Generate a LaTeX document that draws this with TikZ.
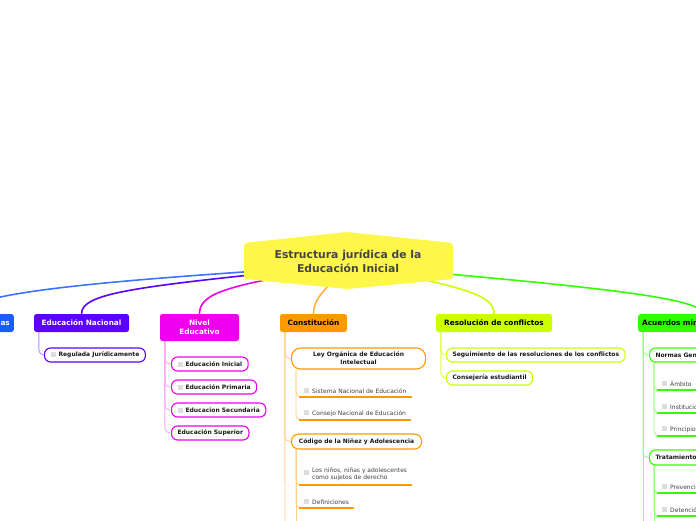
\documentclass[tikz,border=0pt]{standalone}
\usepackage{fontspec}
\setmainfont{DejaVu Sans}
\usetikzlibrary{backgrounds}
\definecolor{cBlue}{HTML}{1A5CFF}
\definecolor{cPurple}{HTML}{5C00FF}
\definecolor{cMagenta}{HTML}{EE00EE}
\definecolor{cOrange}{HTML}{FF9900}
\definecolor{cYG}{HTML}{CCFF00}
\definecolor{cGreen}{HTML}{33FF00}
\definecolor{cYellow}{HTML}{FFF64A}
\definecolor{cText}{HTML}{444444}
\definecolor{cbgray}{HTML}{DDDDDD}
\newcommand\cbx{\raisebox{-0.3pt}{\textcolor{cbgray}{\rule{5pt}{5pt}}}\hspace{3pt}}
\tikzset{
  mainbox/.style={rounded corners=2.5pt, minimum height=18pt, inner xsep=4pt, inner ysep=0pt,
    font=\bfseries\fontsize{7.3}{9}\selectfont, align=center},
  subbox/.style={draw=#1, line width=1.1pt, fill=white, rounded corners=6pt, minimum height=14pt,
    inner xsep=6pt, inner ysep=0pt, font=\bfseries\fontsize{6}{8}\selectfont, text=black!90, align=center},
  leaf/.style={inner xsep=5pt, inner ysep=3.5pt, font=\fontsize{6}{8.5}\selectfont, text=black!75, align=left},
  uline/.style={draw=#1, line width=2.6pt},
  topline/.style={draw=#1, line width=1.6pt},
  subline/.style={draw=#1, line width=0.9pt, rounded corners=5pt},
}
\begin{document}
\begin{tikzpicture}[x=1pt,y=-1pt]
\useasboundingbox (0,0) rectangle (696,520);
\clip (0,0) rectangle (696,520);
% central
\fill[cYellow, rounded corners=3pt] (244,243) -- (347,232) -- (453,243) -- (453,279) -- (347,289) -- (244,279) -- cycle;
\node[font=\bfseries\fontsize{10.8}{14}\selectfont, text=cText, align=center] (root) at (348,261) {Estructura jurídica de la\\Educación Inicial};
\coordinate (hub) at (348,265);
% main boxes
\node[mainbox, fill=cBlue, text=white, anchor=east, minimum width=100pt, text width=92pt, align=right] (asb) at (14,323) {as};
\node[mainbox, fill=cPurple, text=white, minimum width=95pt] (nacional) at (81.5,323) {Educación Nacional};
\node[mainbox, fill=cMagenta, text=white, minimum width=79pt, minimum height=27pt] (nivel) at (199.5,327.5) {Nivel\\Educativo};
\node[mainbox, fill=cOrange, text=black, minimum width=67pt] (const) at (313.5,323) {Constitución};
\node[mainbox, fill=cYG, text=black, minimum width=116pt] (resol) at (494,323) {Resolución de conflictos};
\node[mainbox, fill=cGreen, text=black, anchor=west, minimum width=130pt, text width=122pt, align=left] (acuerdos) at (638,323) {Acuerdos ministeriales};
% Educación Nacional
\node[subbox=cPurple, anchor=west] (reg) at (44,355) {\cbx Regulada Jurídicamente};
% Nivel Educativo
\node[subbox=cMagenta, anchor=west] (ni1) at (171,364) {\cbx Educación Inicial};
\node[subbox=cMagenta, anchor=west] (ni2) at (171,387) {\cbx Educación Primaria};
\node[subbox=cMagenta, anchor=west] (ni3) at (171,410) {\cbx Educacion Secundaria};
\node[subbox=cMagenta, anchor=west] (ni4) at (171,433) {Educación Superior};
% Constitución
\node[subbox=cOrange, rounded corners=9pt, minimum width=134pt, minimum height=21pt, anchor=west] (ley) at (291,358.5) {Ley Orgánica de Educación\\Intelectual};
\node[leaf, anchor=south west] (l1) at (299,397) {\cbx Sistema Nacional de Educación};
\node[leaf, anchor=south west] (l2) at (299,420) {\cbx Consejo Nacional de Educación};
\node[subbox=cOrange, rounded corners=7pt, minimum width=130pt, minimum height=15pt, anchor=west] (codigo) at (291,441.5) {Código de la Niñez y Adolescencia};
\node[leaf, anchor=south west, inner ysep=2.5pt] (l3) at (299,485) {\raisebox{1pt}{\cbx}\begin{tabular}{@{}l@{}}Los niños, niñas y adolescentes\\[-1.5pt]como sujetos de derecho\end{tabular}};
\node[leaf, anchor=south west] (l4) at (299,508) {\cbx Definiciones};
% Resolución
\node[subbox=cYG, anchor=west] (seg) at (446,355) {Seguimiento de las resoluciones de los conflictos};
\node[subbox=cYG, anchor=west] (cons) at (446,378) {Consejería estudiantil};
% Acuerdos
\node[subbox=cGreen, anchor=west, text width=80pt, align=left] (normas) at (649,355) {Normas Generales};
\node[leaf, anchor=south west, text width=55pt] (a1) at (657,390) {\cbx Ámbito};
\node[leaf, anchor=south west, text width=55pt] (a2) at (657,413) {\cbx Instituciones};
\node[leaf, anchor=south west, text width=55pt] (a3) at (657,436) {\cbx Principios};
\node[subbox=cGreen, anchor=west, text width=80pt, align=left, minimum height=15pt] (trat) at (649,457.5) {Tratamiento};
\node[leaf, anchor=south west, text width=55pt] (a4) at (657,493) {\cbx Prevención};
\node[leaf, anchor=south west, text width=55pt] (a5) at (657,516) {\cbx Detención};
% underlines
\foreach \n in {l1,l2,l3,l4} \draw[uline=cOrange] (\n.south west) -- (\n.south east);
\foreach \n in {a1,a2,a3,a4,a5} \draw[uline=cGreen] (\n.south west) -- (\n.south east);
\coordinate (offb1) at (285,540);
\coordinate (offb2) at (296,540);
\coordinate (offb3) at (643,540);
\coordinate (offb4) at (654,540);
\begin{scope}[on background layer]
  \draw[topline=cBlue!85] (hub) .. controls (150,278) and (-36,290) .. (asb.north);
  \draw[topline=cPurple] (hub) .. controls (140,286) and (81.5,292) .. (nacional.north);
  \draw[topline=cMagenta] (hub) .. controls (230,285) and (199.5,292) .. (nivel.north);
  \draw[topline=cOrange!75] (hub) .. controls (325,290) and (313.5,298) .. (const.north);
  \draw[topline=cYG] (hub) .. controls (470,287) and (494,296) .. (resol.north);
  \draw[topline=cGreen] (hub) .. controls (560,284) and (703,296) .. (acuerdos.north);
  % children connectors
  \draw[subline=cPurple!45] ([xshift=5pt]nacional.south west) |- (reg.west);
  \foreach \n in {ni1,ni2,ni3,ni4} \draw[subline=cMagenta!35] ([xshift=5pt]nivel.south west) |- (\n.west);
  \draw[subline=cOrange!45] ([xshift=5pt]const.south west) -- (offb1);
  \draw[subline=cOrange!45] ([xshift=5pt]const.south west) |- (ley.west);
  \draw[subline=cOrange!45] ([xshift=5pt]const.south west) |- (codigo.west);
  \draw[subline=cOrange!45] ([xshift=5pt]ley.south west) |- (l1.south west);
  \draw[subline=cOrange!45] ([xshift=5pt]ley.south west) |- (l2.south west);
  \draw[subline=cOrange!45] ([xshift=5pt]codigo.south west) |- (l3.south west);
  \draw[subline=cOrange!45] ([xshift=5pt]codigo.south west) |- (l4.south west);
  \draw[subline=cOrange!45] ([xshift=5pt]codigo.south west) -- (offb2);
  \draw[subline=cYG!70] ([xshift=5pt]resol.south west) |- (seg.west);
  \draw[subline=cYG!70] ([xshift=5pt]resol.south west) |- (cons.west);
  \draw[subline=cGreen!50] ([xshift=5pt]acuerdos.south west) |- (normas.west);
  \draw[subline=cGreen!50] ([xshift=5pt]acuerdos.south west) |- (trat.west);
  \draw[subline=cGreen!50] ([xshift=5pt]acuerdos.south west) -- (offb3);
  \foreach \n in {a1,a2,a3} \draw[subline=cGreen!50] ([xshift=5pt]normas.south west) |- (\n.south west);
  \foreach \n in {a4,a5} \draw[subline=cGreen!50] ([xshift=5pt]trat.south west) |- (\n.south west);
  \draw[subline=cGreen!50] ([xshift=5pt]trat.south west) -- (offb4);
\end{scope}
\end{tikzpicture}
\end{document}
